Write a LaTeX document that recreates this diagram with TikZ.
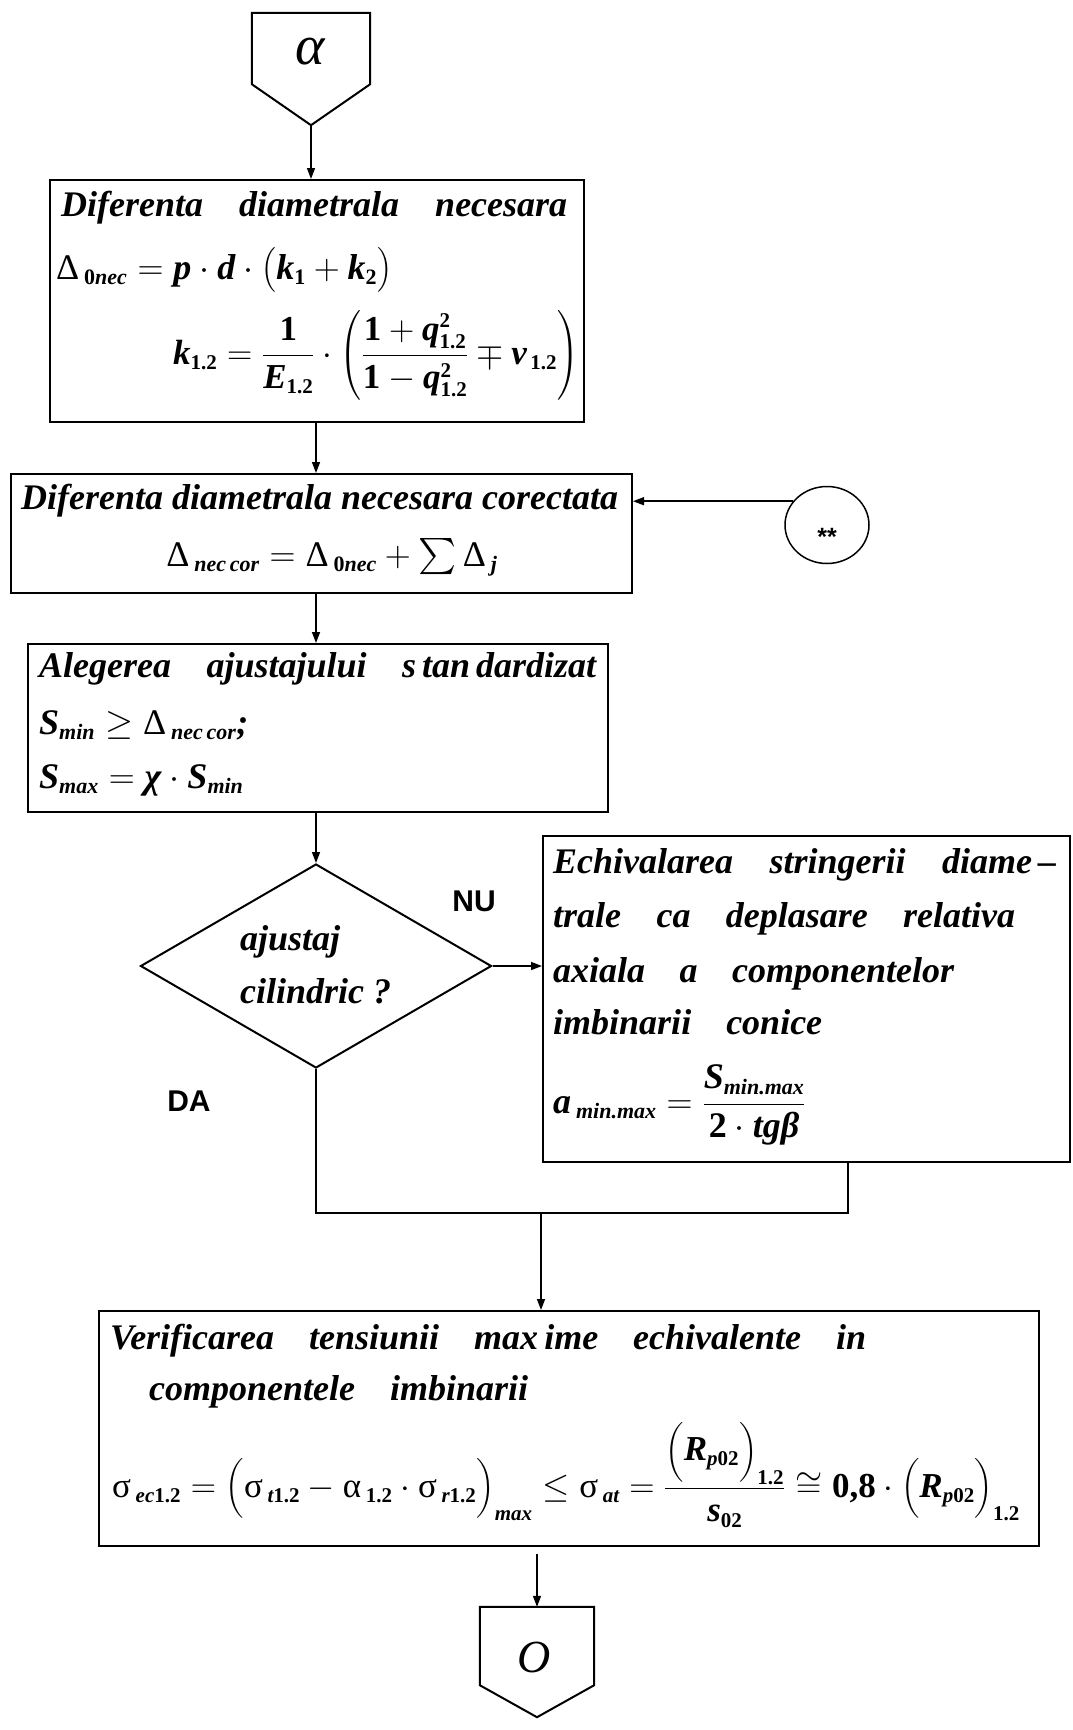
\RequirePackage{fix-cm}
\documentclass[tikz,border=0pt]{standalone}
\usepackage{amsmath}
\usepackage{graphicx}
\usepackage{fontspec}
\setmainfont{Liberation Serif}
\newfontfamily\labelsans{Liberation Sans}
\usetikzlibrary{arrows.meta,shapes.geometric}
\DeclareMathSizes{36}{36}{22}{16}
\DeclareMathSizes{35}{35}{21}{16}

% bold italic variables, bold upright numbers, upright Greek
\newcommand{\V}[1]{\text{\bfseries\itshape #1}}
\newcommand{\N}[1]{\text{\bfseries\upshape #1}}
\newcommand{\G}[1]{\text{\mdseries\upshape #1}}
\newcommand{\sg}{\mkern4mu}
\newcommand{\wsp}{\hspace{35pt}}
\newcommand{\bigsum}{\mathop{\vcenter{\hbox{\scalebox{1.45}{$\textstyle\sum$}}}}}

\tikzset{
  boxnode/.style={draw, line width=2pt, rectangle, inner sep=0pt},
  txt/.style={inner sep=0pt, anchor=base west,
    font=\fontsize{36}{42}\selectfont\bfseries\itshape},
  smalltxt/.style={txt, font=\fontsize{35}{42}\selectfont\bfseries\itshape},
  link/.style={line width=1.5pt},
  arr/.style={link, -{Triangle[length=11pt,width=8pt]}},
  yesno/.style={inner sep=0pt, font=\labelsans\fontsize{30}{30}\selectfont\bfseries},
}

\begin{document}
\begin{tikzpicture}[x=1pt,y=-1pt]
\fill[white] (0,0) rectangle (1073,1730);
\useasboundingbox (0,0) rectangle (1073,1730);

% ---------- entry connector
\node[inner sep=0pt, minimum width=118pt, minimum height=112pt] (start) at (311,69) {};
\draw[line width=2pt] (start.north west) -- (start.north east) -- ([yshift=41pt]start.south east)
  -- (start.south) -- ([yshift=41pt]start.south west) -- cycle;
\node[inner sep=0pt, font=\fontsize{56}{56}\selectfont\itshape] (startlbl) at (310,52) {α};

% ---------- box 1
\node[boxnode, minimum width=534pt, minimum height=242pt] (b1) at (317,301) {};
\node[txt] (b1t) at (61,216) {\makebox[506pt][s]{Diferenta diametrala necesara}};
\node[txt] (b1f1) at (56,279) {$\G{Δ}_{\sg\N{0}\V{nec}} = \V{p}\cdot\V{d}\cdot\bigl(\V{k}_{\N{1}}+\V{k}_{\N{2}}\bigr)$};
\node[smalltxt] (b1f2) at (173,364) {$\displaystyle \V{k}_{\N{1.2}} = \frac{\N{1}}{\V{E}_{\N{1.2}}}\cdot\left(\frac{\N{1}+\V{q}^{\N{2}}_{\N{1.2}}}{\N{1}-\V{q}^{\N{2}}_{\N{1.2}}}\mp\V{ν}_{\,\N{1.2}}\right)$};

% ---------- box 2
\node[boxnode, minimum width=621pt, minimum height=119pt] (b2) at (321.5,533.5) {};
\node[txt] (b2t) at (21,509) {Diferenta diametrala necesara corectata};
\node[txt, anchor=base] (b2f) at (332,566) {$\G{Δ}_{\sg\V{nec\,cor}} = \G{Δ}_{\sg\N{0}\V{nec}} + \bigsum \G{Δ}_{\sg\V{j}}$};

% ---------- external input
\node[draw, ellipse, line width=1.5pt, minimum width=84pt, minimum height=77pt, inner sep=0pt] (star) at (827,525) {};
\node[inner sep=0pt, anchor=base, font=\labelsans\fontsize{25}{25}\selectfont\bfseries] (starlbl) at (827,545) {**};

% ---------- box 3
\node[boxnode, minimum width=580pt, minimum height=168pt] (b3) at (318,728) {};
\node[txt] (b3t) at (39,677) {\hbox to 557pt{Alegerea\hfill ajustajului\hfill s\,tan\,dardizat}};
\node[txt] (b3f1) at (39,734) {$\V{S}_{\V{min}} \geq \G{Δ}_{\sg\V{nec\,cor}}\V{;}$};
\node[txt] (b3f2) at (39,788) {$\V{S}_{\V{max}} = \V{χ}\cdot\V{S}_{\V{min}}$};

% ---------- decision
\node[draw, diamond, line width=2pt, minimum width=351pt, minimum height=204pt, inner sep=0pt] (dec) at (316,966) {};
\node[txt] (dect1) at (240,950) {ajustaj};
\node[txt] (dect2) at (240,1003) {cilindric ?};
\node[yesno] (nu) at (474,901) {NU};
\node[yesno] (da) at (189,1101) {DA};

% ---------- box 5 (conical joint)
\node[boxnode, minimum width=527pt, minimum height=326pt] (b5) at (806.5,999) {};
\node[txt] (b5l1) at (553,873) {\hbox to 503pt{Echivalarea\hfill stringerii\hfill diame\,–}};
\node[txt] (b5l2) at (553,927) {\hbox to 462pt{trale\hfill ca\hfill deplasare\hfill relativa}};
\node[txt] (b5l3) at (553,982) {\hbox to 401pt{axiala\hfill a\hfill componentelor}};
\node[txt] (b5l4) at (553,1034) {\hbox to 269pt{imbinarii\hfill conice}};
\node[txt] (b5f) at (553,1113) {$\displaystyle\V{a}_{\sg\V{min.max}} = \frac{\V{S}_{\V{min.max}}\rule[-6pt]{0pt}{0pt}}{\rule{0pt}{30pt}\N{2}\cdot\V{tg}\V{β}}$};

% ---------- box 6
\node[boxnode, minimum width=940pt, minimum height=235pt] (b6) at (569,1428.5) {};
\node[txt] (b6l1) at (110,1349) {Verificarea\wsp tensiunii\wsp max\,ime\wsp echivalente\wsp in};
\node[txt] (b6l2) at (149,1400) {componentele\wsp imbinarii};
\node[smalltxt] (b6f) at (112,1497) {$\displaystyle\G{σ}_{\sg\V{ec}\N{1.2}} = \Bigl(\G{σ}_{\sg\V{t}\N{1.2}} - \G{α}_{\sg\N{1.2}}\cdot\G{σ}_{\sg\V{r}\N{1.2}}\Bigr)_{\V{max}} \leq \G{σ}_{\sg\V{at}} = \frac{\Bigl(\V{R}_{\V{p}\N{02}}\Bigr)_{\N{1.2}}\rule[-4pt]{0pt}{0pt}}{\rule{0pt}{30pt}\V{s}_{\N{02}}} \cong \N{0,8}\cdot\Bigl(\V{R}_{\V{p}\N{02}}\Bigr)_{\N{1.2}}$};

% ---------- exit connector
\node[inner sep=0pt, minimum width=114pt, minimum height=110pt] (finish) at (537,1662) {};
\draw[line width=2pt] (finish.north west) -- (finish.north east) -- ([yshift=32pt]finish.south east)
  -- (finish.south) -- ([yshift=32pt]finish.south west) -- cycle;
\node[inner sep=0pt, font=\fontsize{46}{46}\selectfont\itshape] (finishlbl) at (534,1657) {O};

% ---------- connectors
\coordinate (jl) at (316,1213);
\coordinate (jr) at (848,1213);
\coordinate (jm) at (541,1213);
\draw[arr] (start.south) -- (start.south |- b1.north);
\draw[arr] (b1.south -| dec.north) -- (b2.north -| dec.north);
\draw[arr] (star.145) -- (star.145 -| b2.east);
\draw[arr] (b2.south -| dec.north) -- (b3.north -| dec.north);
\draw[arr] (b3.south -| dec.north) -- (dec.north);
\draw[arr] (dec.east) -- (dec.east -| b5.west);
\draw[link] (dec.south) -- (jl) -- (jr) -- (jr |- b5.south);
\draw[arr] (jm) -- (jm |- b6.north);
\draw[arr] ([yshift=-7pt]b6.south -| finish.north) -- (finish.north);
\end{tikzpicture}
\end{document}
